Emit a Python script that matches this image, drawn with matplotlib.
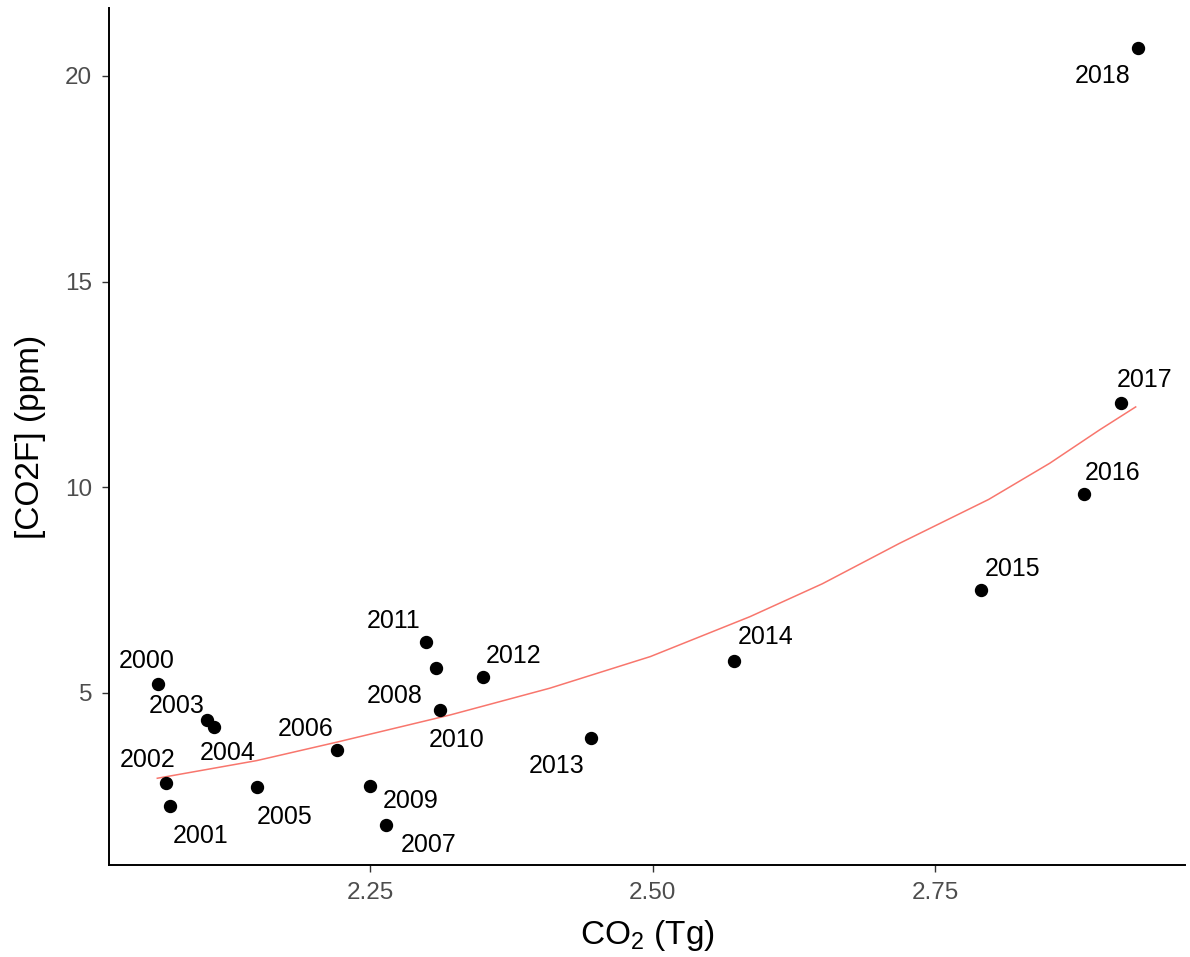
import matplotlib
matplotlib.use("Agg")
import matplotlib.pyplot as plt

plt.rcParams['font.family'] = ['Liberation Sans', 'DejaVu Sans']
plt.rcParams['mathtext.fontset'] = 'custom'
plt.rcParams['mathtext.rm'] = 'Liberation Sans'
plt.rcParams['mathtext.default'] = 'regular'

# data
years = list(range(2000, 2019))
co2_tg = [2.063, 2.073, 2.070, 2.106, 2.112, 2.150, 2.221, 2.264, 2.308, 2.250,
          2.312, 2.300, 2.350, 2.445, 2.572, 2.790, 2.881, 2.914, 2.929]
co2f_ppm = [5.21, 2.25, 2.80, 4.34, 4.16, 2.70, 3.61, 1.78, 5.60, 2.74,
            4.58, 6.23, 5.38, 3.90, 5.77, 7.50, 9.83, 12.05, 20.67]

# fitted curve
fit_x = [2.062, 2.150, 2.221, 2.321, 2.409, 2.498, 2.586, 2.650, 2.718,
         2.797, 2.851, 2.895, 2.927]
fit_y = [2.92, 3.35, 3.80, 4.46, 5.11, 5.88, 6.85, 7.65, 8.63,
         9.70, 10.58, 11.39, 11.95]

# label offsets in pixels (dx right, dy down), like ggrepel placed them
nudge = {
    2000: (-12, -23), 2001: (31, 30), 2002: (-19, -23), 2003: (-30, -14),
    2004: (14, 26), 2005: (28, 30), 2006: (-32, -21), 2007: (43, 20),
    2008: (-41, 28), 2009: (41, 15), 2010: (17, 30), 2011: (-33, -21),
    2012: (31, -21), 2013: (-34, 28), 2014: (31, -24), 2015: (32, -21),
    2016: (29, -21), 2017: (24, -23), 2018: (-35, 28),
}

fig = plt.figure(figsize=(11.9, 9.57), dpi=100)
ax = fig.add_axes([0.0916, 0.0961, 0.904, 0.8955])

ax.plot(fit_x, fit_y, color='#F8766D', lw=1.1, zorder=2)
ax.plot(co2_tg, co2f_ppm, 'o', color='black', markersize=8.6, zorder=3)

for yr, x, y in zip(years, co2_tg, co2f_ppm):
    dx, dy = nudge[yr]
    ax.annotate(str(yr), (x, y), xytext=(dx, -dy), textcoords='offset pixels',
                ha='center', va='center', fontsize=18, color='black')

ax.set_xlim(2.0193, 2.9704)
ax.set_ylim(0.81, 21.65)
ax.set_xticks([2.25, 2.50, 2.75])
ax.set_xticklabels(['2.25', '2.50', '2.75'])
ax.set_yticks([5, 10, 15, 20])

for s in ['top', 'right']:
    ax.spines[s].set_visible(False)
for s in ['left', 'bottom']:
    ax.spines[s].set_linewidth(1.4)
ax.tick_params(length=5, width=1, color='#333333', labelsize=17.5,
               labelcolor='#4D4D4D', pad=7)

ax.set_xlabel('CO$_2$ (Tg)', fontsize=24, labelpad=10)
ax.set_ylabel('[CO2F] (ppm)', fontsize=24, labelpad=14)

fig.savefig('out.png', dpi=100)
